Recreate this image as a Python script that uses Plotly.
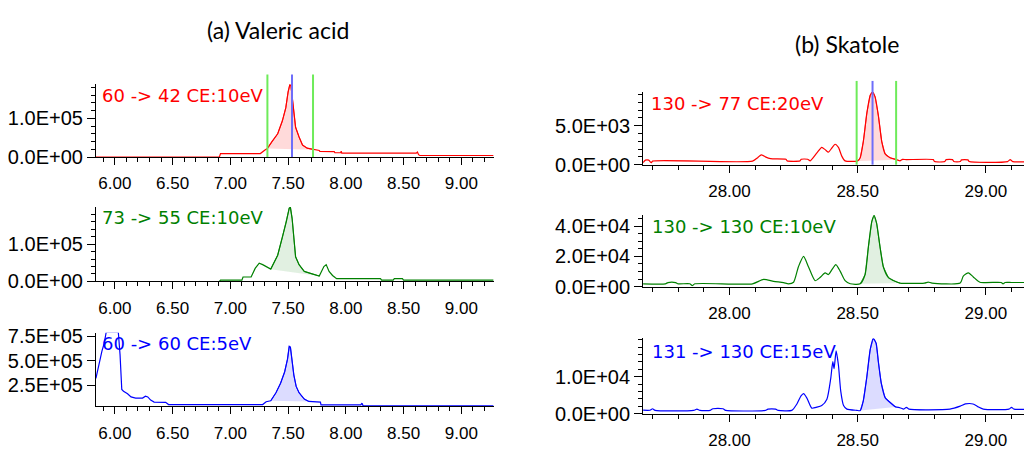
import plotly.graph_objects as go

# ---------------- data ----------------
# (a) Valeric acid
t_a1 = [5.836, 6.905, 6.915, 7.26, 7.30, 7.32, 7.36, 7.41, 7.45, 7.48, 7.50, 7.515, 7.525, 7.54, 7.55,
        7.565, 7.595, 7.625, 7.665, 7.72, 7.77, 7.775, 7.90, 7.905, 7.955, 7.96, 7.965, 8.61, 8.62,
        8.63, 8.64, 9.28]
v_a1 = [0, 0, 9e3, 9e3, 1.8e4, 2.2e4, 4.0e4, 6.0e4, 9.3e4, 1.27e5, 1.68e5, 1.87e5, 1.84e5, 1.43e5, 1.02e5,
        7.7e4, 5.2e4, 3.1e4, 2.3e4, 1.9e4, 1.7e4, 1.45e4, 1.4e4, 1.1e4, 1.1e4, 1.5e4, 1.0e4, 1.0e4, 1.3e4,
        6e3, 4e3, 4e3]

t_a2 = [5.836, 6.905, 6.915, 7.10, 7.11, 7.18, 7.215, 7.25, 7.28, 7.31, 7.35, 7.41, 7.45, 7.485, 7.51,
        7.52, 7.535, 7.55, 7.565, 7.595, 7.64, 7.68, 7.75, 7.77, 7.81, 7.83, 7.855, 7.885, 7.91, 7.92,
        8.30, 8.31, 8.41, 8.42, 8.49, 8.50, 9.28]
v_a2 = [0, 0, 3.6e3, 3.6e3, 1.2e4, 1.2e4, 3.5e4, 4.9e4, 4.5e4, 4.0e4, 3.3e4, 7.0e4, 1.17e5, 1.6e5, 1.96e5,
        1.98e5, 1.68e5, 1.17e5, 6.6e4, 4.5e4, 2.7e4, 2.3e4, 1.5e4, 1.45e4, 4.0e4, 4.5e4, 2.7e4, 1.6e4, 1.0e4,
        7.7e3, 7.7e3, 3.6e3, 3.6e3, 7.7e3, 7.7e3, 3.6e3, 3.6e3]

t_a3 = [5.836, 5.865, 5.888, 5.908, 5.925, 6.03, 6.045, 6.06, 6.075, 6.11, 6.14, 6.18, 6.24, 6.265, 6.285,
        6.31, 6.34, 6.44, 6.465, 7.28, 7.31, 7.35, 7.395, 7.435, 7.47, 7.495, 7.51, 7.52, 7.537, 7.55,
        7.57, 7.595, 7.64, 7.68, 7.78, 7.785, 8.13, 8.14, 8.15, 9.28]
v_a3 = [3.19e5, 4.82e5, 5.97e5, 6.78e5, 7.9e5, 7.9e5, 5.6e5, 2.05e5, 1.88e5, 1.62e5, 1.29e5, 1.17e5, 1.17e5,
        1.36e5, 1.29e5, 9.7e4, 7.7e4, 7.4e4, 5.1e4, 5.1e4, 8.0e4, 9.0e4, 1.72e5, 2.7e5, 3.84e5, 5.15e5,
        6.46e5, 6.39e5, 4.82e5, 3.52e5, 2.37e5, 1.72e5, 1.07e5, 8.3e4, 7.7e4, 4.8e4, 4.8e4, 6.5e4, 3.8e4, 3.8e4]

# (b) Skatole
t_b1 = [27.663, 27.672, 27.685, 27.695, 27.70, 28.09, 28.11, 28.124, 28.14, 28.16, 28.22, 28.225, 28.275,
        28.28, 28.305, 28.315, 28.341, 28.36, 28.373, 28.386, 28.399, 28.412, 28.425, 28.438, 28.451, 28.50,
        28.51, 28.522, 28.536, 28.549, 28.558, 28.568, 28.581, 28.594, 28.607, 28.626, 28.652, 28.665, 28.675,
        28.69, 28.795, 28.80, 28.84, 28.845, 28.87, 28.875, 28.90, 28.905, 28.93, 28.935, 29.085, 29.095,
        29.105, 29.18]
v_b1 = [280, 580, 580, 250, 455, 455, 900, 1270, 1000, 774, 700, 490, 490, 700, 700, 490, 1510, 2210, 1930,
        1600, 2130, 2620, 2210, 1100, 491, 490, 900, 2950, 6630, 8880, 9300, 8680, 6230, 2950, 1390, 900, 650,
        490, 680, 650, 650, 400, 400, 650, 650, 400, 400, 620, 620, 400, 400, 650, 400, 400]

t_b2 = [27.663, 27.75, 27.76, 27.79, 27.80, 27.845, 27.855, 27.865, 28.09, 28.133, 28.172, 28.211, 28.23,
        28.25, 28.269, 28.289, 28.308, 28.334, 28.353, 28.373, 28.386, 28.399, 28.415, 28.432, 28.451, 28.471,
        28.51, 28.529, 28.542, 28.555, 28.564, 28.574, 28.587, 28.60, 28.62, 28.646, 28.665, 28.76, 28.775,
        28.79, 28.90, 28.912, 28.932, 28.951, 28.977, 29.06, 29.067, 29.075, 29.10, 29.18]
v_b2 = [1850, 1850, 2660, 2660, 1850, 1850, 620, 1850, 1850, 4760, 3500, 2660, 1850, 2900, 13200, 20000,
        13200, 3900, 6000, 9100, 8000, 11100, 14600, 10100, 3900, 1850, 1850, 8000, 26600, 43100, 47200, 42000,
        26600, 13200, 6000, 3500, 2300, 2300, 3000, 2300, 2300, 7000, 9100, 6400, 2900, 2700, 1800, 2700, 2700,
        2700]

t_b3 = [27.663, 27.69, 27.70, 27.71, 27.86, 27.873, 27.885, 27.925, 27.935, 27.975, 27.985, 28.14, 28.15,
        28.18, 28.19, 28.243, 28.263, 28.279, 28.289, 28.302, 28.321, 28.341, 28.36, 28.38, 28.395, 28.403,
        28.408, 28.416, 28.425, 28.434, 28.445, 28.458, 28.497, 28.51, 28.522, 28.535, 28.549, 28.561, 28.572,
        28.581, 28.592, 28.607, 28.633, 28.648, 28.665, 28.68, 28.69, 28.70, 28.86, 28.90, 28.92, 28.95,
        28.97, 28.99, 29.09, 29.10, 29.11, 29.18]
v_b3 = [900, 900, 1300, 860, 860, 1200, 860, 860, 1300, 1300, 860, 860, 1200, 1200, 860, 860, 2600, 4780,
        5400, 4200, 1460, 1720, 2170, 3900, 9560, 14100, 12200, 17000, 13100, 6100, 2170, 1200, 860, 800,
        3470, 9560, 17400, 20400, 19100, 13900, 8250, 4330, 2600, 1800, 1570, 1200, 1700, 1200, 1200, 2000,
        2600, 2600, 1800, 1200, 1200, 1700, 1200, 1200]

labels = ["60 -> 42 CE:10eV", "73 -> 55 CE:10eV", "60 -> 60 CE:5eV",
          "130 -> 77 CE:20eV", "130 -> 130 CE:10eV", "131 -> 130 CE:15eV"]
titles = ["(a) Valeric acid", "(b) Skatole"]

# integration windows (start, end) for shaded peaks
windows = [(7.32, 7.72), (7.35, 7.77), (7.35, 7.68), (28.50, 28.652), (28.51, 28.665), (28.51, 28.648)]
# marker lines on top panels: window edges and retention time
marks_a = (7.321, 7.716, 7.534)
marks_b = (28.496, 28.65, 28.558)

yticks_vals = [[0, 1e5], [0, 1e5], [2.5e5, 5e5, 7.5e5], [0, 5e3], [0, 2e4, 4e4], [0, 1e4]]
yticks_text = [["0.0E+00", "1.0E+05"], ["0.0E+00", "1.0E+05"], ["2.5E+05", "5.0E+05", "7.5E+05"],
               ["0.0E+00", "5.0E+03"], ["0.0E+00", "2.0E+04", "4.0E+04"], ["0.0E+00", "1.0E+04"]]
yminor = [2e4, 2e4, None, 1e3, 5e3, 2e3]

# ---------------- layout geometry ----------------
# page body has an 8px margin: the figure is drawn at (8, 8) in the window
OFF = 8
W, H = 1032 - OFF, 454 - OFF


def px(x):
    return (x - OFF) / W


def py(y):
    return 1 - (y - OFF) / H


series = [(t_a1, v_a1), (t_a2, v_a2), (t_a3, v_a3), (t_b1, v_b1), (t_b2, v_b2), (t_b3, v_b3)]
colors = ["#ff0000", "#008000", "#0000ff", "#ff0000", "#008000", "#0000ff"]
fills = ["rgba(255,0,0,0.16)", "rgba(0,128,0,0.13)", "rgba(0,0,255,0.15)",
         "rgba(255,0,0,0.16)", "rgba(0,128,0,0.13)", "rgba(0,0,255,0.15)"]
xdom_l = [px(95), px(493)]
xdom_r = [px(642.7), 1.0]
ypix = [(80, 156), (208, 285.7), (339, 415.7), (88.3, 164), (216, 291), (345, 423.3)]
yranges = [[0, 1.886e5], [0, 1.99e5], [3.4e4, 7.86e5], [0, 9.3e3], [0, 4.78e4], [0, 2.04e4]]
xr_l = [5.836, 9.279]
xr_r = [27.663, 29.18]
label_pos = [(99, 92), (99, 219), (99, 350), (648.5, 100), (650, 228.5), (650, 359)]

fig = go.Figure()
layout = {}
xtickfont = dict(family="Liberation Sans", size=17, color="black")
ytickfont = dict(family="Liberation Sans", size=20, color="black")

for i in range(6):
    n = i + 1
    xa = "x" if n == 1 else f"x{n}"
    ya = "y" if n == 1 else f"y{n}"
    t, v = series[i]
    fs, fe = windows[i]
    fx = [a for a, b in zip(t, v) if fs <= a <= fe]
    fy = [b for a, b in zip(t, v) if fs <= a <= fe]
    shape = "linear" if i < 3 else "spline"
    fig.add_trace(go.Scatter(x=fx, y=fy, mode="lines", fill="toself", fillcolor=fills[i],
                             line=dict(color=colors[i], width=0.8, shape="linear"), opacity=0.9,
                             xaxis=xa, yaxis=ya, hoverinfo="skip", showlegend=False))
    fig.add_trace(go.Scatter(x=t, y=v, mode="lines",
                             line=dict(color=colors[i], width=1.2, shape=shape,
                                       smoothing=0.6 if shape == "spline" else None),
                             xaxis=xa, yaxis=ya, showlegend=False))
    y0p, y1p = ypix[i]
    layout["xaxis" if n == 1 else f"xaxis{n}"] = dict(
        domain=xdom_l if i < 3 else xdom_r, anchor=ya, range=xr_l if i < 3 else xr_r,
        showline=True, linecolor="black", linewidth=1, showgrid=False, zeroline=False,
        ticks="outside", ticklen=7, tickcolor="black", tickmode="linear", tick0=0, dtick=0.5,
        tickformat=".2f", tickfont=xtickfont, ticklabelstandoff=4,
        minor=dict(ticks="outside", ticklen=4, tickcolor="black", dtick=0.1, tick0=0, showgrid=False))
    ydict = dict(
        domain=[py(y1p), py(y0p)], anchor=xa, range=yranges[i],
        showline=True, linecolor="black", linewidth=1, showgrid=False, zeroline=False,
        ticks="outside", ticklen=8, tickcolor="black", tickmode="array",
        tickvals=yticks_vals[i], ticktext=yticks_text[i], tickfont=ytickfont)
    if yminor[i]:
        ydict["minor"] = dict(ticks="outside", ticklen=4, tickcolor="black", tickmode="linear",
                              tick0=0, dtick=yminor[i], showgrid=False)
    layout["yaxis" if n == 1 else f"yaxis{n}"] = ydict

annotations = []
for i in range(6):
    lx, ly = label_pos[i]
    annotations.append(dict(text=labels[i], x=px(lx), y=py(ly), xref="paper", yref="paper",
                            xanchor="left", yanchor="middle", showarrow=False,
                            font=dict(family="DejaVu Sans", size=18, color=colors[i])))
annotations.append(dict(text=titles[0], x=px(277), y=py(24), xref="paper", yref="paper",
                        xanchor="center", yanchor="middle", showarrow=False,
                        font=dict(family="Lato", size=23, color="black")))
annotations.append(dict(text=titles[1], x=px(847), y=py(38), xref="paper", yref="paper",
                        xanchor="center", yanchor="middle", showarrow=False,
                        font=dict(family="Lato", size=23, color="black")))

shapes = []
for xr, marks, ytop, ybot in [("x", marks_a, 70, 156), ("x4", marks_b, 76.7, 164)]:
    for k, m in enumerate(marks):
        col = "rgb(110,235,90)" if k < 2 else "rgb(110,110,250)"
        shapes.append(dict(type="line", xref=xr, yref="paper", x0=m, x1=m,
                           y0=py(ybot), y1=py(ytop), line=dict(color=col, width=2),
                           layer="above"))

fig.update_layout(width=W, height=H, margin=dict(l=0, r=0, t=0, b=0),
                  paper_bgcolor="white", plot_bgcolor="white", showlegend=False,
                  annotations=annotations, shapes=shapes, **layout)
fig.write_html("out.html")
